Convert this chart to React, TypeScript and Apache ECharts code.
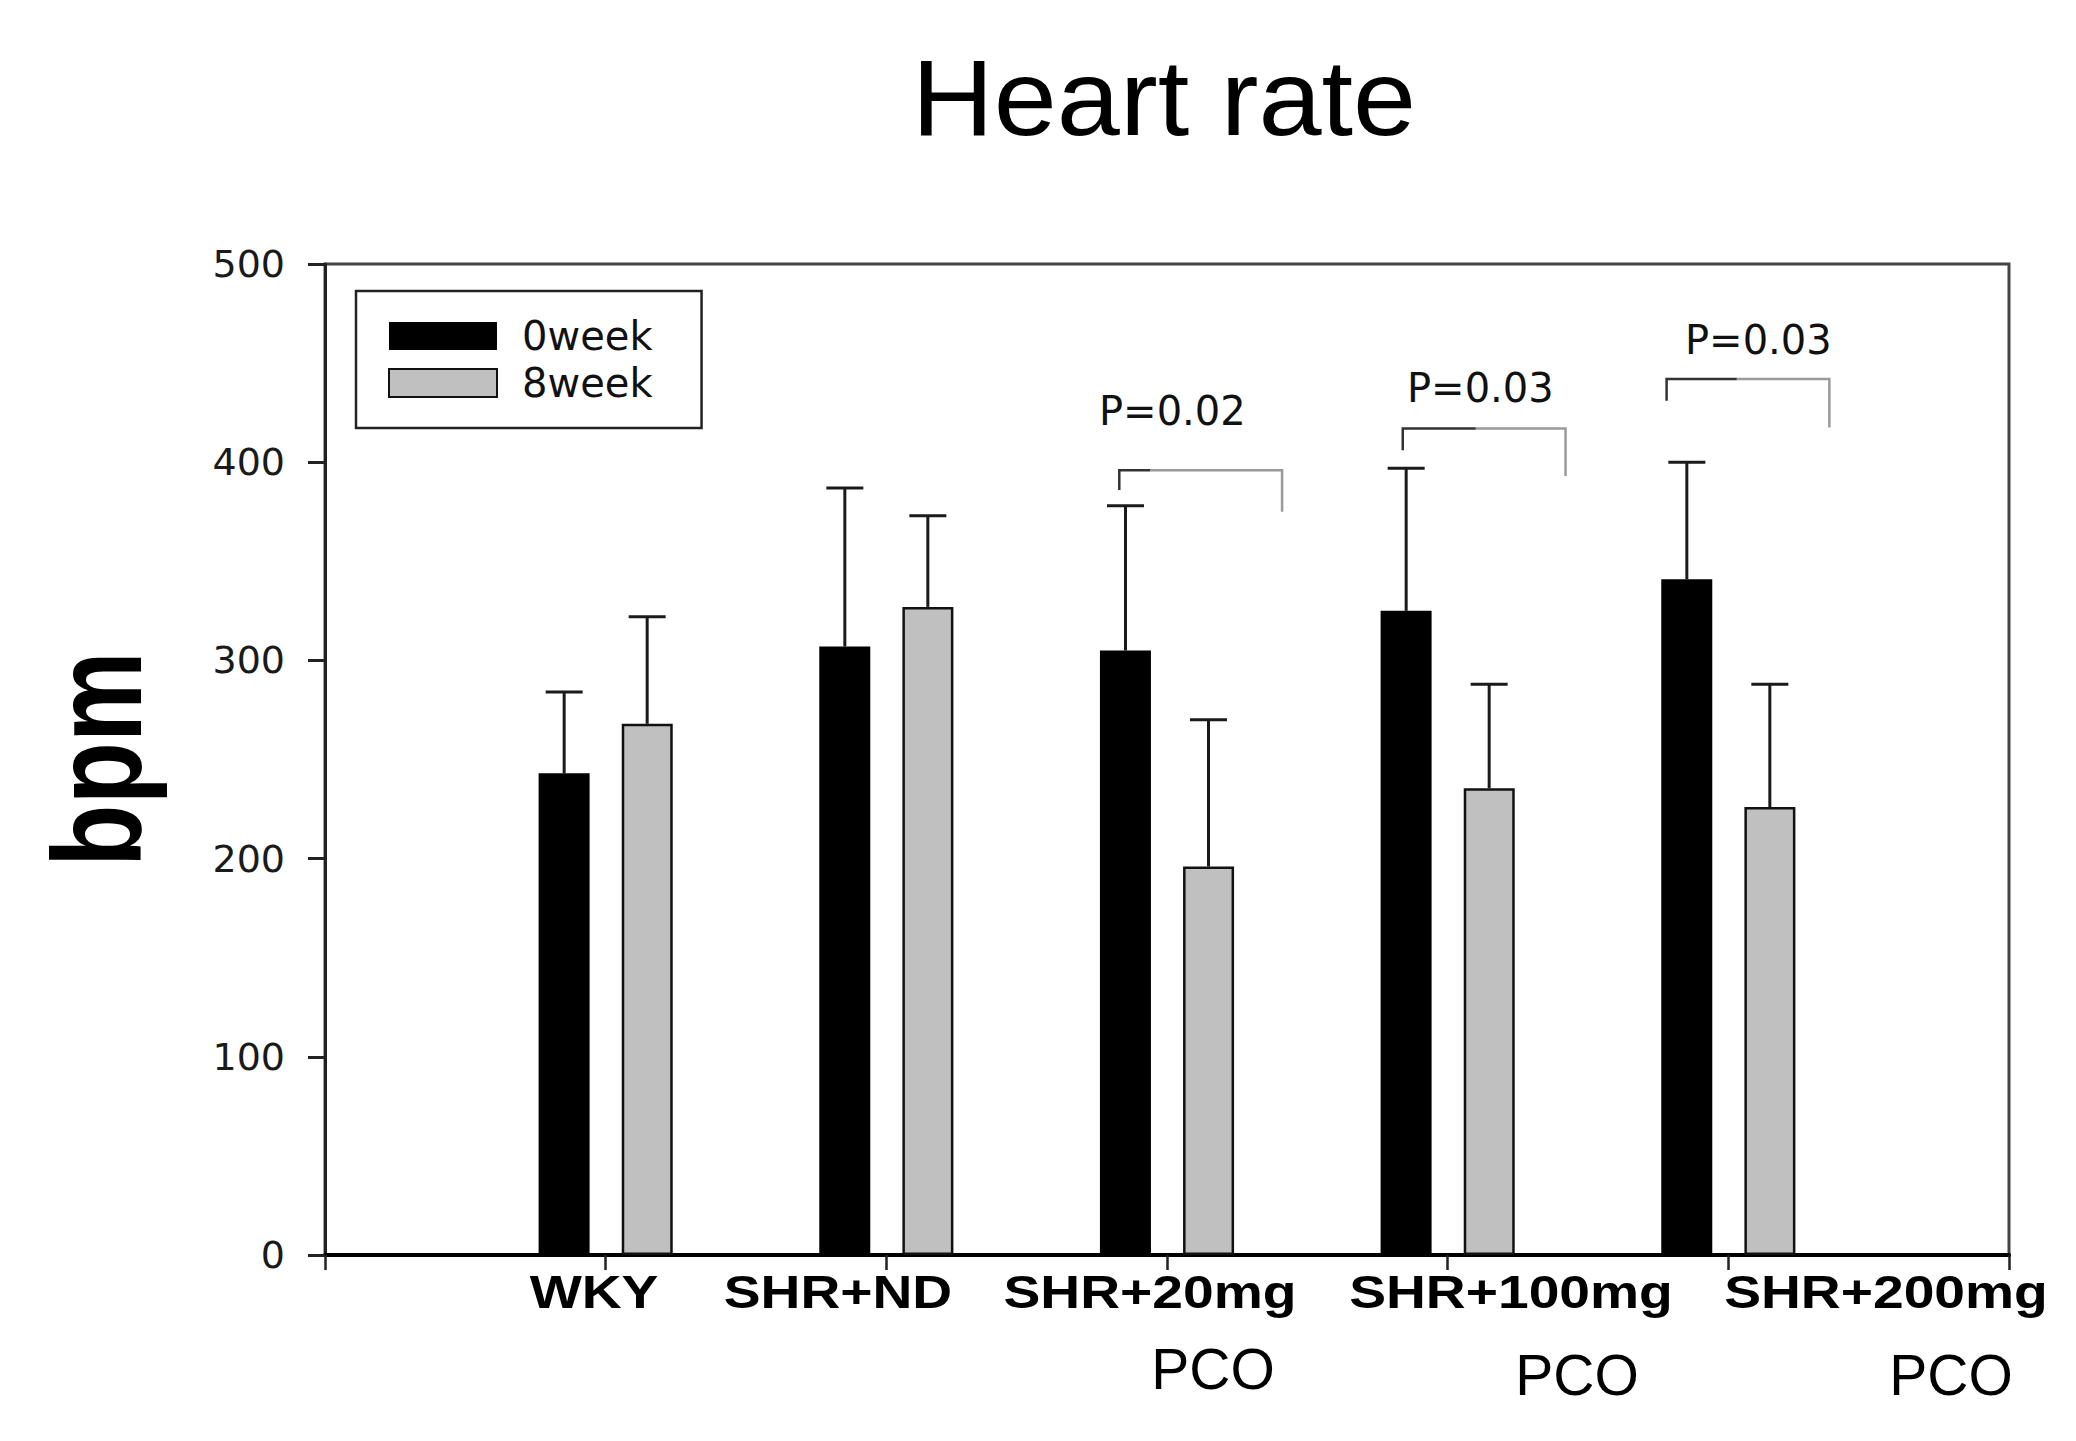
import React, { useEffect, useRef } from "react";
import * as echarts from "echarts";

// ---- data ----
const categories = ["WKY", "SHR+ND", "SHR+20mg", "SHR+100mg", "SHR+200mg"];
const subLabels = ["", "", "PCO", "PCO", "PCO"];
const categoryPositions = [1, 2, 3, 4, 5];
const seriesNames = ["0week", "8week"];
const week0Mean = [243, 307, 305, 325, 341];
const week0Sd = [41, 80, 73, 72, 59];
const week8Mean = [268, 327, 196, 235.5, 226];
const week8Sd = [54, 46, 74, 52.5, 62];
const yTicks = [0, 100, 200, 300, 400, 500];
const xRange = [0, 6];
const pLabels = ["P=0.02", "P=0.03", "P=0.03"];
const bracketLeftX = [2.83, 3.84, 4.78];
const bracketRightX = [3.41, 4.42, 5.36];
const bracketDarkEndX = [2.94, 4.1, 5.03];
const bracketTopY = [396, 417, 442];
const bracketLeftFootY = [386, 406, 431];
const bracketRightFootY = [375, 393, 417.5];

// ---- layout / style ----
const BAR_W = 51;
const BAR_OFFSET = 41.5;
const CAP_HALF = 18.5;
const xLabelCenters = [594, 838, 1150, 1511, 1886];
const subLabelCenters = [0, 0, 1213, 1577, 1951];
const subLabelMiddles = [0, 0, 1369, 1375, 1375];
const pLabelPos = [
  [1099, 411],
  [1407, 388],
  [1685, 340],
];

function errorSeries(means: number[], sds: number[], offset: number) {
  return {
    type: "custom",
    silent: true,
    z: 5,
    data: categoryPositions.map((x, i) => [x, means[i], means[i] + sds[i]]),
    encode: { x: 0, y: [1, 2] },
    renderItem: (_params: any, api: any) => {
      const base = api.coord([api.value(0), api.value(1)]);
      const top = api.coord([api.value(0), api.value(2)]);
      const cx = base[0] + offset;
      const st = { stroke: "#1a1a1a", lineWidth: 3 };
      return {
        type: "group",
        children: [
          { type: "line", shape: { x1: cx, y1: base[1], x2: cx, y2: top[1] }, style: st },
          { type: "line", shape: { x1: cx - CAP_HALF, y1: top[1], x2: cx + CAP_HALF, y2: top[1] }, style: st },
        ],
      };
    },
  };
}

export default function App() {
  const ref = useRef<HTMLDivElement>(null);
  useEffect(() => {
    if (!ref.current) return;
    const chart = echarts.init(ref.current, null, { renderer: "svg" });

    const graphics: any[] = [];
    graphics.push({
      type: "text",
      x: 1164,
      y: 98,
      scaleX: 1.06,
      style: {
        text: "Heart rate",
        fontFamily: "Liberation Sans",
        fontSize: 107,
        fill: "#000",
        align: "center",
        verticalAlign: "middle",
      },
    });
    graphics.push({
      type: "text",
      x: 97,
      y: 759,
      rotation: Math.PI / 2,
      scaleY: 1.24,
      style: {
        text: "bpm",
        fontFamily: "Liberation Sans",
        fontWeight: "bold",
        fontSize: 102,
        fill: "#000",
        align: "center",
        verticalAlign: "middle",
      },
    });
    categories.forEach((c, i) => {
      graphics.push({
        type: "text",
        x: xLabelCenters[i],
        y: 1292,
        scaleX: 1.2,
        style: {
          text: c,
          fontFamily: "Liberation Sans",
          fontWeight: "bold",
          fontSize: 46,
          fill: "#000",
          align: "center",
          verticalAlign: "middle",
        },
      });
      if (subLabels[i]) {
        graphics.push({
          type: "text",
          x: subLabelCenters[i],
          y: subLabelMiddles[i],
          style: {
            text: subLabels[i],
            fontFamily: "Liberation Sans",
            fontSize: 57,
            fill: "#000",
            align: "center",
            verticalAlign: "middle",
          },
        });
      }
    });
    pLabels.forEach((p, i) => {
      graphics.push({
        type: "text",
        x: pLabelPos[i][0],
        y: pLabelPos[i][1],
        style: {
          text: p,
          fontFamily: "DejaVu Sans",
          fontSize: 40,
          fill: "#111",
          align: "left",
          verticalAlign: "middle",
        },
      });
    });

    const option: any = {
      animation: false,
      backgroundColor: "#fff",
      grid: {
        left: 325,
        top: 264,
        right: 2076 - 2009,
        bottom: 1441 - 1255,
        show: true,
        borderColor: "#444",
        borderWidth: 3,
        containLabel: false,
      },
      legend: {
        data: seriesNames,
        orient: "vertical",
        left: 356,
        top: 291,
        itemWidth: 108,
        itemHeight: 28,
        itemGap: 7,
        padding: [25, 49, 25, 32],
        borderColor: "#222",
        borderWidth: 2.5,
        icon: "rect",
        selectedMode: false,
        textStyle: {
          fontFamily: "DejaVu Sans",
          fontSize: 40,
          color: "#111",
          padding: [0, 0, 0, 20],
        },
      },
      xAxis: {
        type: "value",
        min: xRange[0],
        max: xRange[1],
        interval: 1,
        axisLine: { show: true, lineStyle: { color: "#000", width: 4 } },
        axisTick: { show: true, length: 15, lineStyle: { color: "#222", width: 2.5 } },
        axisLabel: { show: false },
        splitLine: { show: false },
      },
      yAxis: {
        type: "value",
        min: yTicks[0],
        max: yTicks[yTicks.length - 1],
        interval: yTicks[1] - yTicks[0],
        axisLine: { show: true, lineStyle: { color: "#222", width: 3 } },
        axisTick: { show: true, length: 17, lineStyle: { color: "#222", width: 3 } },
        axisLabel: {
          margin: 40,
          fontFamily: "DejaVu Sans",
          fontSize: 38,
          color: "#1a1a1a",
        },
        splitLine: { show: false },
      },
      series: [
        {
          name: seriesNames[0],
          type: "bar",
          barWidth: BAR_W,
          barGap: "63%",
          itemStyle: { color: "#000" },
          data: categoryPositions.map((x, i) => [x, week0Mean[i]]),
          z: 3,
        },
        {
          name: seriesNames[1],
          type: "bar",
          barWidth: BAR_W,
          barGap: "63%",
          itemStyle: { color: "#c0c0c0", borderColor: "#111", borderWidth: 2.5 },
          data: categoryPositions.map((x, i) => [x, week8Mean[i]]),
          z: 3,
        },
        errorSeries(week0Mean, week0Sd, -BAR_OFFSET),
        errorSeries(week8Mean, week8Sd, BAR_OFFSET),
        {
          type: "custom",
          silent: true,
          z: 6,
          data: bracketLeftX.map((l, i) => [
            l,
            bracketRightX[i],
            bracketDarkEndX[i],
            bracketTopY[i],
            bracketLeftFootY[i],
            bracketRightFootY[i],
          ]),
          encode: { x: [0, 1], y: [3, 4, 5] },
          renderItem: (_params: any, api: any) => {
            const L = api.value(0);
            const R = api.value(1);
            const D = api.value(2);
            const T = api.value(3);
            const LF = api.value(4);
            const RF = api.value(5);
            const dark = [api.coord([L, LF]), api.coord([L, T]), api.coord([D, T])];
            const gray = [api.coord([D, T]), api.coord([R, T]), api.coord([R, RF])];
            return {
              type: "group",
              children: [
                { type: "polyline", shape: { points: gray }, style: { stroke: "#9a9a9a", lineWidth: 2.5, fill: null } },
                { type: "polyline", shape: { points: dark }, style: { stroke: "#333", lineWidth: 2.5, fill: null } },
              ],
            };
          },
        },
      ],
      graphic: graphics,
    };
    chart.setOption(option);
    return () => chart.dispose();
  }, []);

  return (
    <div
      ref={ref}
      style={{ position: "absolute", left: 0, top: 0, width: 2076, height: 1441, background: "#fff" }}
    />
  );
}
